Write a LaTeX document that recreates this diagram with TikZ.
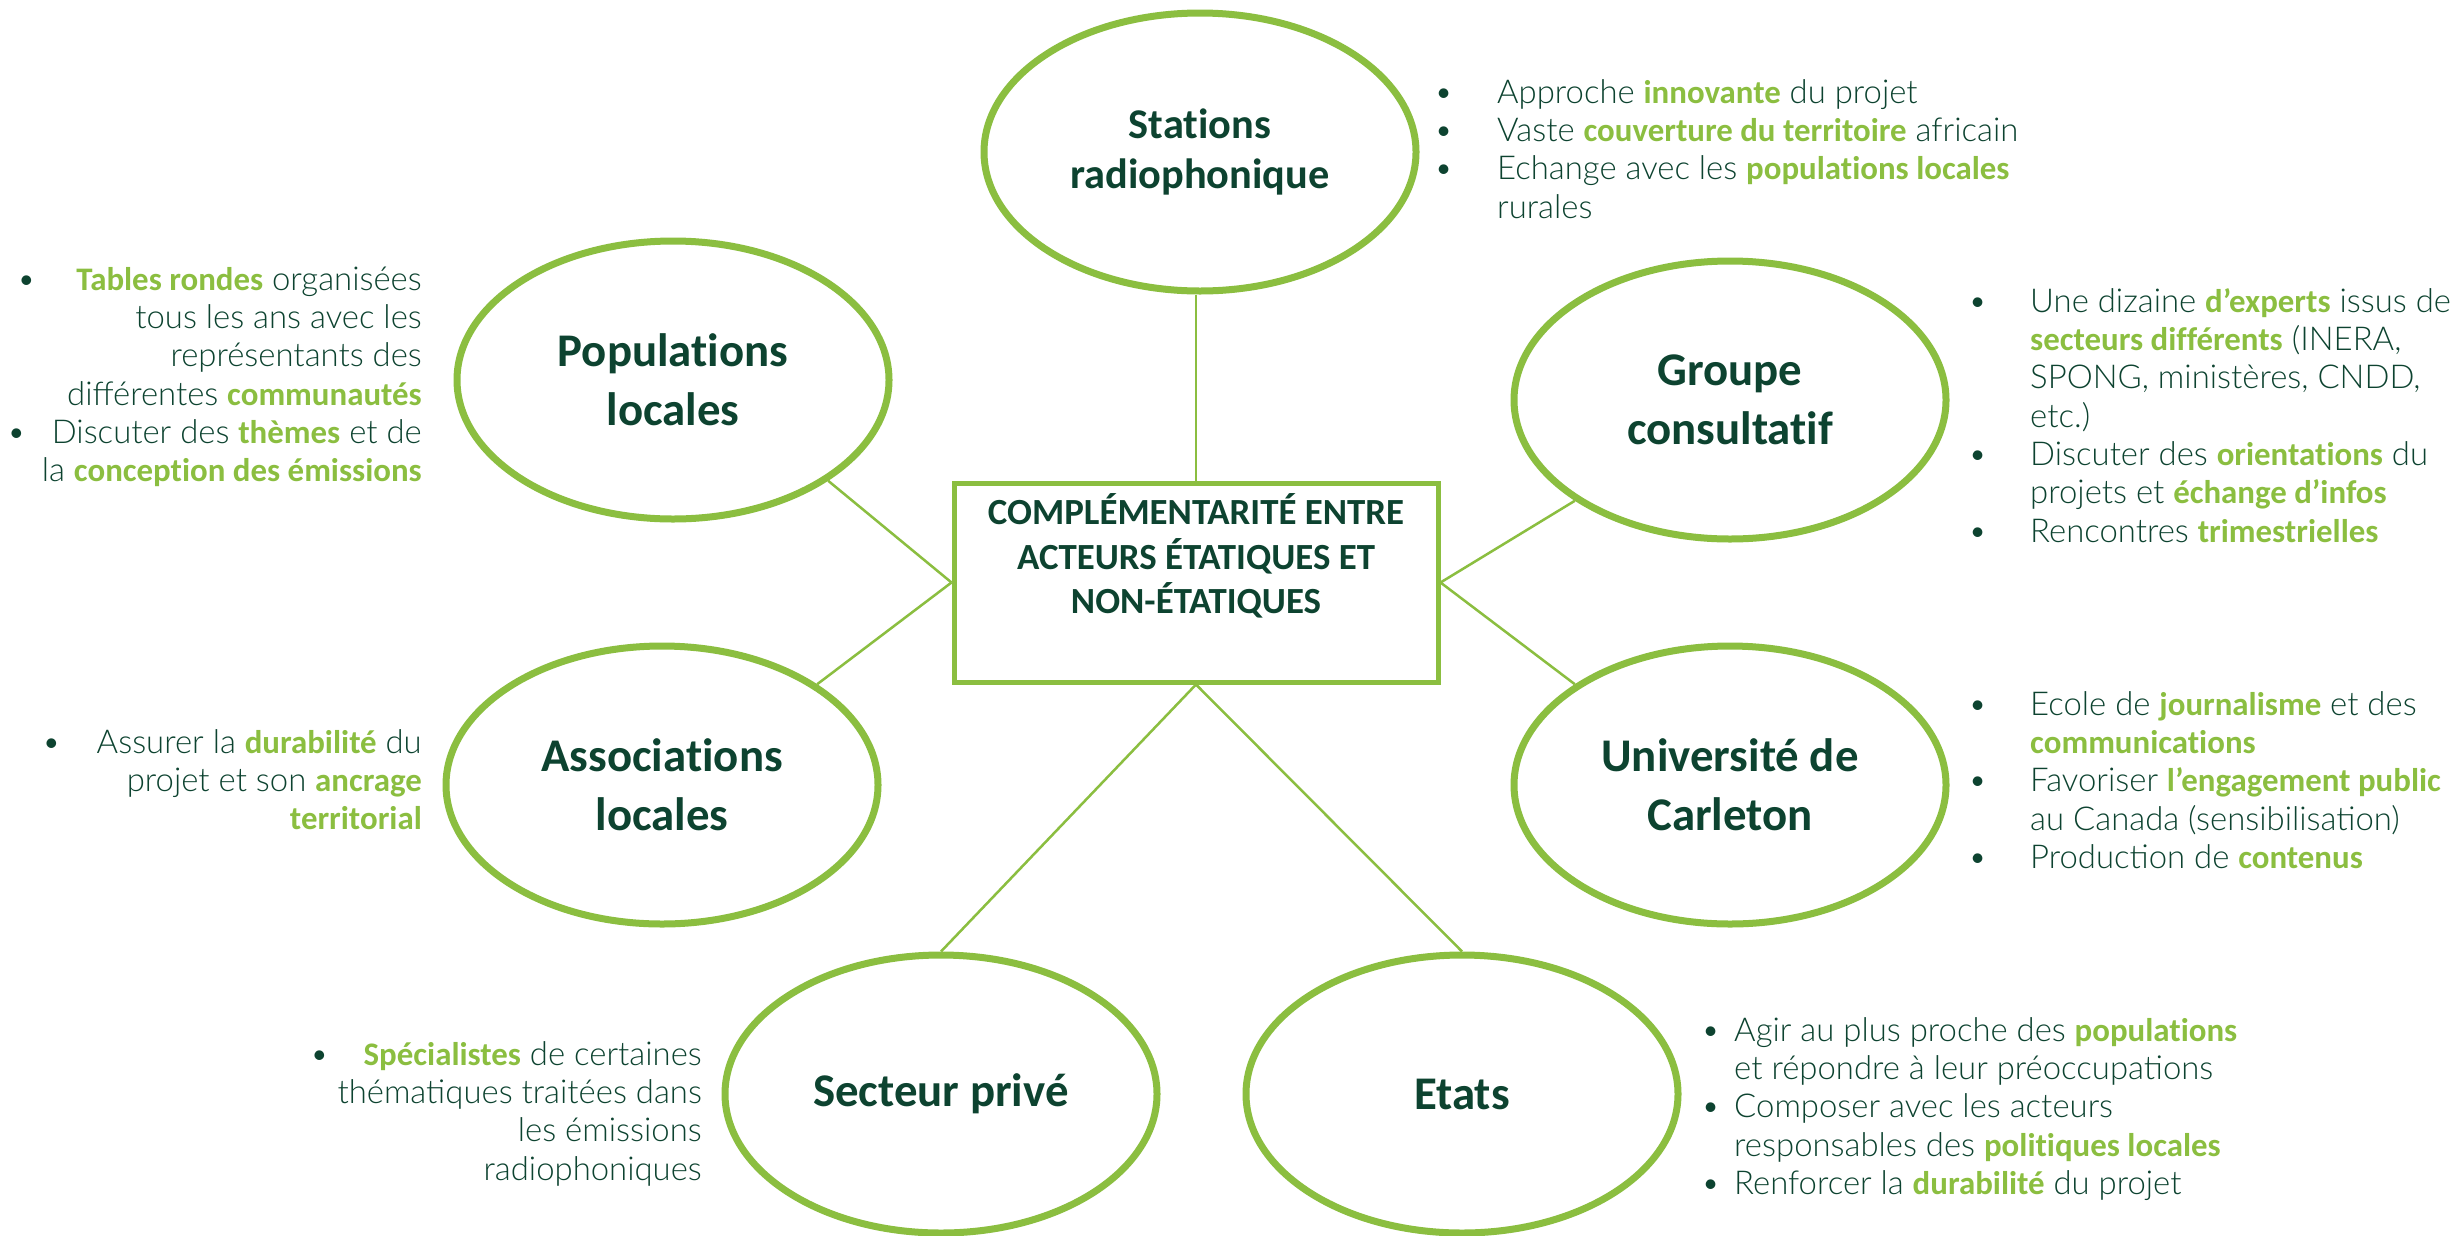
\documentclass[tikz,border=0pt]{standalone}
\usepackage{fontspec}
\usetikzlibrary{shapes.geometric}
\newfontfamily\lightfont{Lato Light}
\newfontfamily\calfont{Carlito}[Ligatures=NoCommon]
\definecolor{lg}{HTML}{8BBE40}
\definecolor{dg}{HTML}{0D4330}
\newcommand\hlt[1]{{\calfont\bfseries\color{lg}#1}}
\newcommand\rbul[2]{\makebox[#1bp][l]{\textbullet\hfill #2}}
\begin{document}
\begin{tikzpicture}[x=1bp,y=-1bp,
  ell/.style={ellipse, draw=lg, line width=7bp, minimum width=432bp, minimum height=278bp,
    inner sep=0pt, align=center, text=dg, font=\calfont\bfseries\fontsize{47}{59}\selectfont},
  conn/.style={draw=lg, line width=2.5bp},
  blk/.style={inner sep=0pt, text=dg, font=\lightfont\fontsize{33}{38.5}\selectfont},
  boxst/.style={draw=lg, line width=5bp, minimum width=484bp, minimum height=199bp, inner sep=0pt},
  boxtxt/.style={align=center, text=dg, inner sep=0pt, font=\calfont\bfseries\fontsize{37}{45}\selectfont}
]
\useasboundingbox[fill=white] (0,0) rectangle (2458,1235);

% ellipses
\node[ell, font=\calfont\bfseries\fontsize{42.5}{50}\selectfont] (sta) at (1200,152) {Stations\\radiophonique};
\node[ell] (pop) at (673,380) {Populations\\locales};
\node[ell] (grp) at (1730,400) {Groupe\\consultatif};
\node[ell] (asc) at (662,785) {Associations\\locales};
\node[ell] (uni) at (1730,785) {Université de\\Carleton};
\node[ell] (sec) at (941,1094) {Secteur privé};
\node[ell] (eta) at (1462,1094) {Etats};

% central box
\node[boxst] (box) at (1196,582.5) {};
\node[boxtxt, anchor=north] (boxt) at (1196,493) {COMPLÉMENTARITÉ ENTRE\\ACTEURS ÉTATIQUES ET\\NON-ÉTATIQUES};

% connectors
\draw[conn] (box.north |- sta.south) -- (box.north);
\draw[conn] (box.west) -- (pop.-33);
\draw[conn] (box.west) -- (asc.33);
\draw[conn] (box.east) -- (grp.213);
\draw[conn] (box.east) -- (uni.147);
\draw[conn] (box.south) -- (sec.north);
\draw[conn] (box.south) -- (eta.north);

% text blocks
\node[blk, anchor=base west] (ta) at (1434,103) {\begin{tabular}[t]{@{}p{63bp}@{}l@{}}
\textbullet & Approche \hlt{innovante} du projet\\
\textbullet & Vaste \hlt{couverture du territoire} africain\\
\textbullet & Echange avec les \hlt{populations locales}\\
 & rurales
\end{tabular}};

\node[blk, anchor=base east] (tb) at (422,290) {\begin{tabular}[t]{@{}r@{}}
\rbul{405}{\hlt{Tables rondes} organisées}\\
tous les ans avec les\\
représentants des\\
différentes \hlt{communautés}\\
\rbul{415}{Discuter des \hlt{thèmes} et de}\\
la \hlt{conception des émissions}
\end{tabular}};

\node[blk, anchor=base west] (tc) at (1968,312) {\begin{tabular}[t]{@{}p{62bp}@{}l@{}}
\textbullet & Une dizaine \hlt{d’experts} issus de\\
 & \hlt{secteurs différents} (INERA,\\
 & SPONG, ministères, CNDD,\\
 & etc.)\\
\textbullet & Discuter des \hlt{orientations} du\\
 & projets et \hlt{échange d’infos}\\
\textbullet & Rencontres \hlt{trimestrielles}
\end{tabular}};

\node[blk, anchor=base east] (td) at (422,753) {\begin{tabular}[t]{@{}r@{}}
\rbul{380}{Assurer la \hlt{durabilité} du}\\
projet et son \hlt{ancrage}\\
\hlt{territorial}
\end{tabular}};

\node[blk, anchor=base west] (te) at (1968,715) {\begin{tabular}[t]{@{}p{62bp}@{}l@{}}
\textbullet & Ecole de \hlt{journalisme} et des\\
 & \hlt{communications}\\
\textbullet & Favoriser \hlt{l’engagement public}\\
 & au Canada (sensibilisation)\\
\textbullet & Production de \hlt{contenus}
\end{tabular}};

\node[blk, anchor=base east] (tf) at (702,1065) {\begin{tabular}[t]{@{}r@{}}
\rbul{392}{\hlt{Spécialistes} de certaines}\\
thématiques traitées dans\\
les émissions\\
radiophoniques
\end{tabular}};

\node[blk, anchor=base west] (tg) at (1701,1041) {\begin{tabular}[t]{@{}p{33bp}@{}l@{}}
\textbullet & Agir au plus proche des \hlt{populations}\\
 & et répondre à leur préoccupations\\
\textbullet & Composer avec les acteurs\\
 & responsables des \hlt{politiques locales}\\
\textbullet & Renforcer la \hlt{durabilité} du projet
\end{tabular}};
\end{tikzpicture}
\end{document}
